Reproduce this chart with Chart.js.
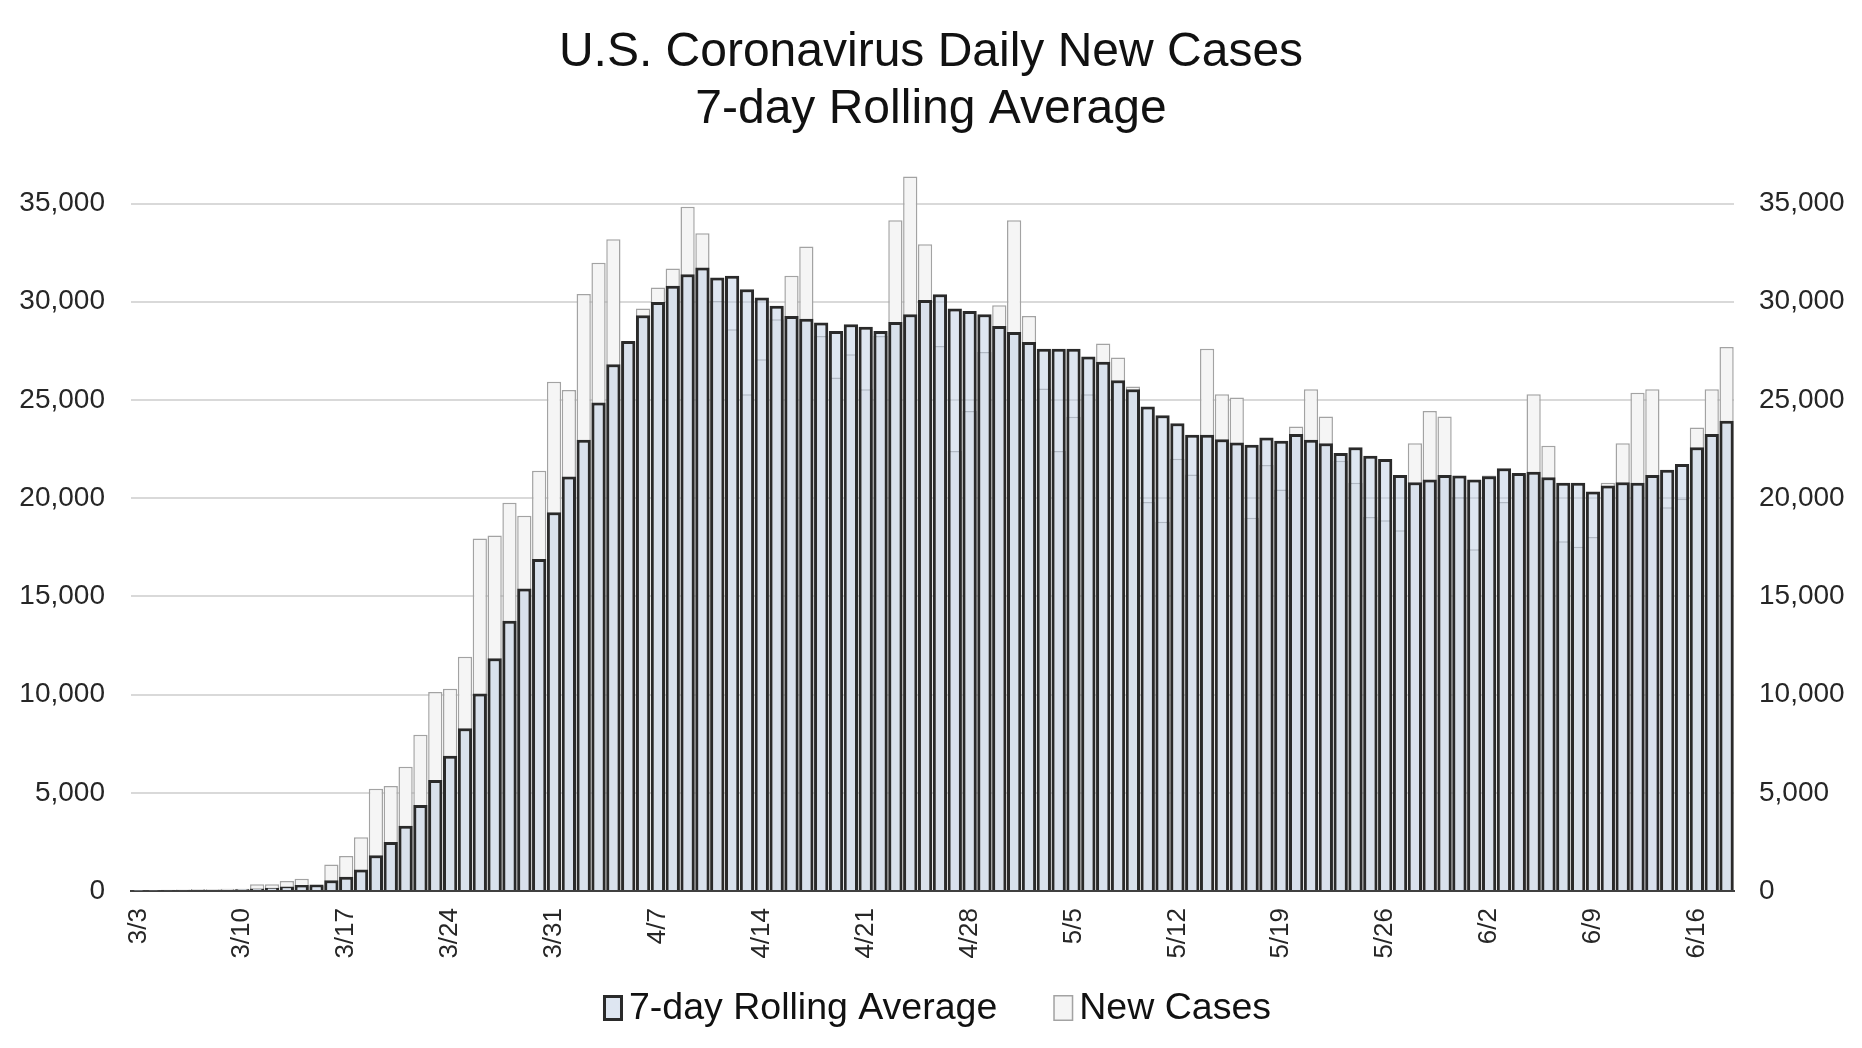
<!DOCTYPE html>
<html>
<head>
<meta charset="utf-8">
<title>U.S. Coronavirus Daily New Cases</title>
<script src="https://cdn.jsdelivr.net/npm/chart.js@4.4.1/dist/chart.umd.min.js"></script>
<style>
    html, body { margin: 0; padding: 0; background: #fff; }
    #chart { display: block; width: 1862px; height: 1048px; }
</style>
</head>
<body>
<canvas id="chart" width="1862" height="1048"></canvas>
<script>
// --- DATA ---
const days = [
    '3/3','3/4','3/5','3/6','3/7','3/8','3/9','3/10','3/11','3/12','3/13','3/14','3/15','3/16','3/17',
    '3/18','3/19','3/20','3/21','3/22','3/23','3/24','3/25','3/26','3/27','3/28','3/29','3/30','3/31',
    '4/1','4/2','4/3','4/4','4/5','4/6','4/7','4/8','4/9','4/10','4/11','4/12','4/13','4/14','4/15',
    '4/16','4/17','4/18','4/19','4/20','4/21','4/22','4/23','4/24','4/25','4/26','4/27','4/28','4/29','4/30',
    '5/1','5/2','5/3','5/4','5/5','5/6','5/7','5/8','5/9','5/10','5/11','5/12','5/13','5/14','5/15',
    '5/16','5/17','5/18','5/19','5/20','5/21','5/22','5/23','5/24','5/25','5/26','5/27','5/28','5/29','5/30','5/31',
    '6/1','6/2','6/3','6/4','6/5','6/6','6/7','6/8','6/9','6/10','6/11','6/12','6/13','6/14','6/15','6/16','6/17','6/18'
];

const newCases = [
    20, 30, 60, 80, 100, 90, 110, 120, 340, 340,
    510, 630, 250, 1350, 1780, 2740, 5200, 5340, 6320, 7960,
    10130, 10300, 11930, 17950, 18100, 19770, 19100, 21400, 25930, 25500,
    30400, 31990, 33180, 27950, 29650, 30720, 31690, 34830, 33490, 30040,
    28600, 25290, 27070, 29110, 31320, 32810, 28260, 26140, 27330, 25540,
    28260, 34150, 36380, 32930, 27750, 22400, 24440, 27440, 29820, 34150,
    29280, 25580, 22400, 24150, 25290, 27870, 27160, 25680, 19800, 18800,
    22000, 21200, 27610, 25290, 25120, 19000, 21690, 20440, 23650, 25540,
    24160, 21910, 20780, 19040, 18870, 18360, 22800, 24440, 24160, 20050,
    17400, 21150, 19800, 21200, 25290, 22670, 17810, 17520, 18020, 20780,
    22800, 25370, 25540, 19540, 19970, 23600, 25540, 27690
];

const rollingAvg = [
    10, 15, 25, 35, 50, 60, 70, 90, 130, 170,
    230, 300, 330, 550, 720, 1100, 1820, 2500, 3320, 4380,
    5650, 6880, 8290, 10050, 11850, 13760, 15400, 16900, 19280, 21100,
    22970, 24870, 26820, 28000, 29310, 29990, 30810, 31400, 31740, 31230,
    31320, 30640, 30210, 29790, 29280, 29140, 28940, 28510, 28850, 28730,
    28510, 28970, 29360, 30090, 30380, 29650, 29530, 29360, 28770, 28460,
    27950, 27610, 27610, 27610, 27210, 26940, 26000, 25540, 24660, 24220,
    23810, 23230, 23230, 23000, 22830, 22720, 23090, 22920, 23260, 22970,
    22800, 22300, 22590, 22160, 21990, 21180, 20810, 20950, 21180, 21150,
    20950, 21120, 21520, 21280, 21350, 21070, 20780, 20780, 20340, 20640,
    20810, 20780, 21180, 21450, 21740, 22590, 23260, 23940
];

const yTicks = [0, 5000, 10000, 15000, 20000, 25000, 30000, 35000];
const yMax = 37000;

// --- HELPERS ---
const FONT = "'Liberation Sans', Arial, Helvetica, sans-serif";

function yAxis(side, width, pad) {
    return {
        position: side,
        min: 0,
        max: yMax,
        grid: side === 'left'
            ? { color: '#d9d9d9', lineWidth: 2, drawTicks: false }
            : { drawOnChartArea: false, drawTicks: false },
        border: { display: false },
        ticks: {
            autoSkip: false,
            padding: pad,
            color: '#262626',
            font: { family: FONT, size: 28 },
            callback: (v) => v.toLocaleString('en-US')
        },
        // fixed ticks every 5,000 (stepSize would snap to the 37,000 max)
        afterBuildTicks: (s) => { s.ticks = yTicks.map(v => ({ value: v })); },
        afterFit: (s) => { s.width = width; }
    };
}

// --- LEGEND (drawn by hand so the spacing matches) ---
const bottomLegend = {
    id: 'bottomLegend',
    afterDraw(chart) {
        const c = chart.ctx;
        const sets = chart.data.datasets;
        const boxW = 20, boxH = 26, gap = 6, itemGap = 56;
        const y = chart.height - 40;

        c.save();
        c.font = `37.5px ${FONT}`;
        c.textBaseline = 'middle';
        c.textAlign = 'left';

        const widths = sets.map(d => boxW + gap + c.measureText(d.label).width);
        const total = widths.reduce((a, b) => a + b, 0) + itemGap * (sets.length - 1);
        let x = chart.width / 2 - total / 2 + 6;

        sets.forEach((d, i) => {
            const bw = d.borderWidth;
            c.fillStyle = '#fff';
            c.fillRect(x, y - boxH / 2, boxW, boxH);
            c.fillStyle = d.backgroundColor;
            c.fillRect(x, y - boxH / 2, boxW, boxH);
            c.lineWidth = bw;
            c.strokeStyle = d.borderColor;
            c.strokeRect(x + bw / 2, y - boxH / 2 + bw / 2, boxW - bw, boxH - bw);

            c.fillStyle = '#111';
            c.fillText(d.label, x + boxW + gap, y + 1);
            x += widths[i] + itemGap;
        });
        c.restore();
    }
};

// --- CHART ---
const ctx = document.getElementById('chart').getContext('2d');

new Chart(ctx, {
    type: 'bar',
    data: {
        labels: days,
        datasets: [
            {
                label: '7-day Rolling Average',
                data: rollingAvg,
                backgroundColor: 'rgba(190, 205, 228, 0.5)',
                borderColor: '#2a2a2a',
                borderWidth: 3,
                grouped: false,
                categoryPercentage: 1,
                barPercentage: 0.96,
                yAxisID: 'y'
            },
            {
                label: 'New Cases',
                data: newCases,
                backgroundColor: '#f5f5f5',
                borderColor: '#a3a3a3',
                borderWidth: 1.5,
                grouped: false,
                categoryPercentage: 1,
                barPercentage: 0.96,
                yAxisID: 'y'
            }
        ]
    },
    options: {
        responsive: false,
        animation: false,
        layout: { padding: { top: 24, bottom: 87, left: 0, right: 0 } },
        plugins: {
            title: {
                display: true,
                text: ['U.S. Coronavirus Daily New Cases', '7-day Rolling Average'],
                color: '#111',
                font: { family: FONT, size: 48, weight: 'normal', lineHeight: 1.19 },
                padding: { top: 0, bottom: 26 }
            },
            legend: { display: false },
            tooltip: { enabled: false }
        },
        scales: {
            x: {
                offset: true,
                grid: { display: false, drawTicks: false },
                border: { display: true, color: '#404040', width: 2 },
                ticks: {
                    autoSkip: false,
                    maxRotation: 90,
                    minRotation: 90,
                    padding: 17,
                    color: '#262626',
                    font: { family: FONT, size: 26 },
                    callback: (v, i) => (i % 7 === 0 ? days[i] : '')
                },
                afterFit: (s) => { s.height = 70; }
            },
            y: yAxis('left', 131, 26),
            y2: yAxis('right', 128, 25)
        }
    },
    plugins: [bottomLegend]
});
</script>
</body>
</html>
